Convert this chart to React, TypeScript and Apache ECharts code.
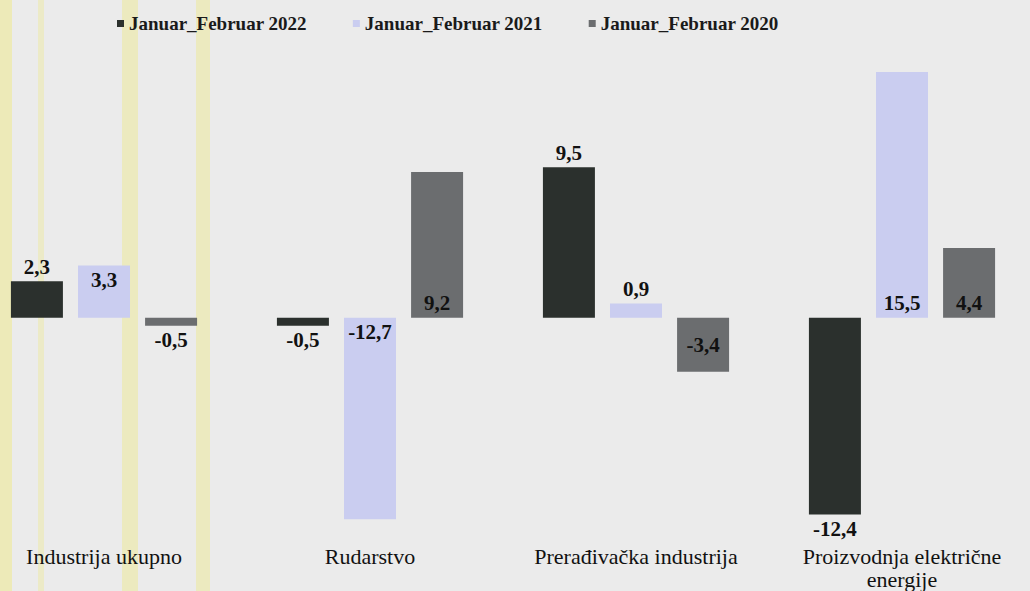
import React, { useEffect, useRef } from "react";
import * as echarts from "echarts";

const categories = [
  "Industrija ukupno",
  "Rudarstvo",
  "Prerađivačka industrija",
  "Proizvodnja električne\nenergije",
];
const seriesNames = ["Januar_Februar 2022", "Januar_Februar 2021", "Januar_Februar 2020"];
const values2022 = [2.3, -0.5, 9.5, -12.4];
const values2021 = [3.3, -12.7, 0.9, 15.5];
const values2020 = [-0.5, 9.2, -3.4, 4.4];
const labelPos2022 = ["top", "bottom", "top", "bottom"];
const labelPos2021 = ["insideTop", "insideTop", "top", "insideBottom"];
const labelPos2020 = ["bottom", "insideBottom", "inside", "insideBottom"];
const colors = ["#2b302d", "#cacdf0", "#6b6d6f"];

const FONT = "Liberation Serif";
const OFF = 29;

const fmt = (p: any) => String(p.value).replace(".", ",");

export default function App() {
  const ref = useRef<HTMLDivElement>(null);
  useEffect(() => {
    if (!ref.current) return;
    const chart = echarts.init(ref.current, null, { renderer: "svg" });
    const mk = (name: string, vals: number[], pos: string[], color: string) => ({
      name,
      type: "bar",
      barWidth: 52,
      barGap: "29%",
      itemStyle: { color },
      label: {
        show: true,
        formatter: fmt,
        fontFamily: FONT,
        fontWeight: "bold",
        fontSize: 21,
        color: "#111",
        distance: 4,
      },
      data: vals.map((v, i) => ({ value: v, label: { position: pos[i] } })),
    });
    const stripe = (x: number, w: number, a: number) => ({
      type: "rect",
      shape: { x: x + OFF, y: 0, width: w, height: 591 },
      style: { fill: `rgba(240,232,90,${a})` },
    });
    chart.setOption({
      animation: false,
      backgroundColor: "#ebebeb",
      color: colors,
      textStyle: { fontFamily: FONT },
      graphic: [stripe(0, 12, 0.35), stripe(38, 6, 0.25), stripe(122, 16, 0.3), stripe(196, 14, 0.3)],
      legend: {
        left: 112 + OFF,
        top: 9,
        icon: "rect",
        itemWidth: 7,
        itemHeight: 7,
        itemGap: 46,
        textStyle: { fontFamily: FONT, fontSize: 19, fontWeight: "bold", color: "#1a1a1a" },
        data: seriesNames,
      },
      grid: { left: 0, width: 1064, top: 64, height: 480 },
      xAxis: {
        type: "category",
        data: categories,
        axisLine: { show: false, onZero: false },
        axisTick: { show: false },
        axisLabel: {
          margin: 5,
          fontFamily: FONT,
          fontSize: 22,
          color: "#111",
          lineHeight: 23,
          interval: 0,
        },
      },
      yAxis: {
        type: "value",
        min: -14,
        max: 16,
        show: false,
        splitLine: { show: false },
      },
      series: [
        mk(seriesNames[0], values2022, labelPos2022, colors[0]),
        mk(seriesNames[1], values2021, labelPos2021, colors[1]),
        mk(seriesNames[2], values2020, labelPos2020, colors[2]),
      ],
    });
    return () => chart.dispose();
  }, []);
  return (
    <div
      style={{
        position: "absolute",
        left: 0,
        top: 0,
        width: 1030,
        height: 591,
        overflow: "hidden",
        background: "#ebebeb",
      }}
    >
      <div
        ref={ref}
        style={{ position: "absolute", left: -OFF, top: 0, width: 1100, height: 591 }}
      />
    </div>
  );
}
